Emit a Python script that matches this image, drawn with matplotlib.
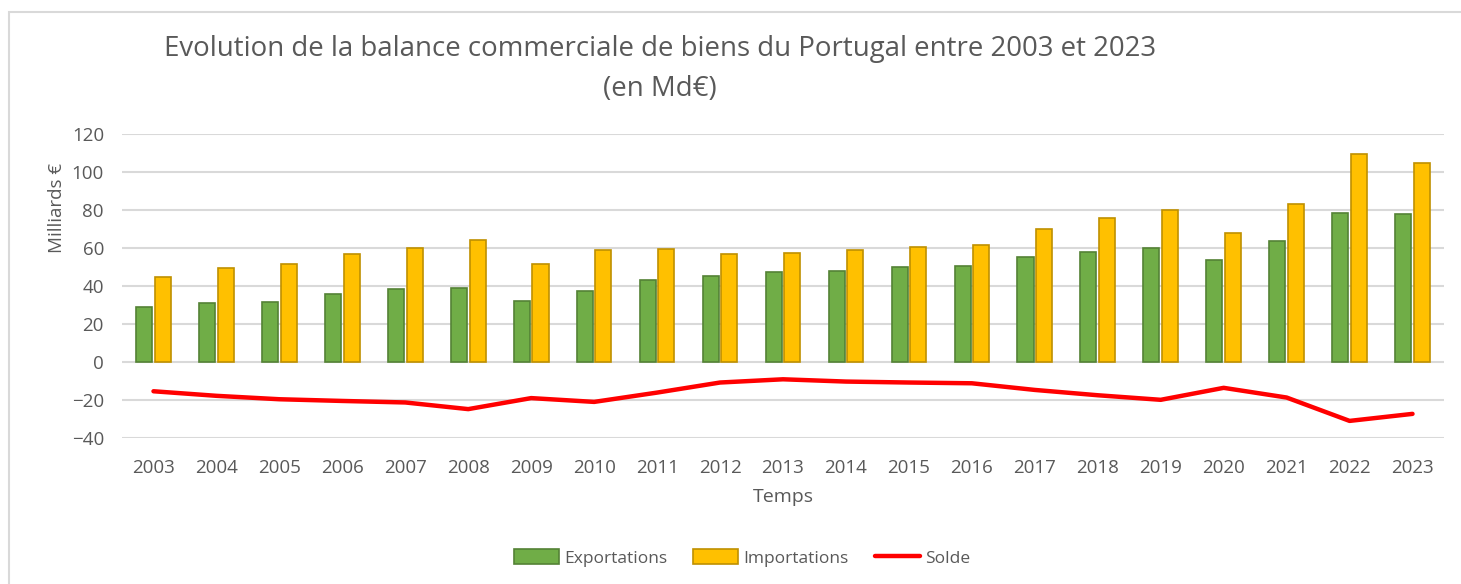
import matplotlib
matplotlib.use("Agg")
import matplotlib.pyplot as plt
import numpy as np
from matplotlib.patches import Rectangle, Patch
from matplotlib.lines import Line2D

years = [str(y) for y in range(2003, 2024)]
exportations = [29.2, 31.0, 31.5, 35.7, 38.3, 39.0, 32.2, 37.3, 43.0, 45.3, 47.6,
                48.1, 49.9, 50.6, 55.1, 57.7, 60.0, 53.9, 63.5, 78.4, 77.8]
importations = [44.6, 49.3, 51.4, 56.7, 60.2, 64.2, 51.4, 58.9, 59.5, 56.7, 57.2,
                58.9, 60.7, 61.4, 69.8, 75.6, 80.1, 68.0, 82.9, 109.3, 104.8]
solde = [-15.4, -17.8, -19.6, -20.5, -21.3, -24.8, -19.0, -21.0, -16.1, -10.8, -9.1,
         -10.3, -10.8, -11.2, -14.7, -17.5, -19.9, -13.6, -18.7, -31.0, -27.3]
yticks = [-40, -20, 0, 20, 40, 60, 80, 100, 120]

TXT = "#595959"
W, H = 1461, 584
plt.rcParams['font.family'] = ['Open Sans', 'DejaVu Sans']

fig = plt.figure(figsize=(W / 100, H / 100), dpi=100)
fig.patch.set_facecolor("white")

# chart border
fig.add_artist(Rectangle((9 / W, -0.1), 1.2, 1 - 12 / H + 0.1, transform=fig.transFigure,
                         fill=False, edgecolor="#D9D9D9", linewidth=1.5))

ax = fig.add_axes([122 / W, 1 - 438 / H, (1444 - 122) / W, (438 - 134) / H])
x = np.arange(len(years))
bw = 0.255
ax.bar(x - 0.148, exportations, bw, color="#70AD47", edgecolor="#548235", linewidth=1.2,
       zorder=3, label="Exportations")
ax.bar(x + 0.148, importations, bw, color="#FFC000", edgecolor="#BF9000", linewidth=1.2,
       zorder=3, label="Importations")
ax.plot(x, solde, color="#FF0000", linewidth=3.2, zorder=4, solid_capstyle="round",
        label="Solde")

ax.set_xlim(-0.5, len(years) - 0.5)
ax.set_ylim(-40, 120)
ax.set_yticks(yticks)
ax.set_xticks(x)
ax.set_xticklabels(years)
ax.yaxis.grid(True, color="#D9D9D9", linewidth=1.5, zorder=0)
ax.set_axisbelow(True)
for s in ax.spines.values():
    s.set_visible(False)
ax.tick_params(axis="both", length=0, labelsize=13.5, colors=TXT)
ax.tick_params(axis="y", pad=13)
ax.tick_params(axis="x", pad=15)

fig.text(660 / W, 1 - 49 / H, "Evolution de la balance commerciale de biens du Portugal entre 2003 et 2023",
         ha="center", va="center", fontsize=19.9, color=TXT)
fig.text(660 / W, 1 - 89 / H, "(en Md€)", ha="center", va="center", fontsize=19.9, color=TXT)
fig.text(57 / W, 1 - 208 / H, "Milliards €", ha="center", va="center", rotation=90,
         fontsize=13.5, color=TXT)
fig.text(783 / W, 1 - 497 / H, "Temps", ha="center", va="center", fontsize=14, color=TXT)

handles = [Patch(facecolor="#70AD47", edgecolor="#548235", linewidth=1.2),
           Patch(facecolor="#FFC000", edgecolor="#BF9000", linewidth=1.2),
           Line2D([0], [0], color="#FF0000", linewidth=3.2, solid_capstyle="round")]
fig.legend(handles, ["Exportations", "Importations", "Solde"], loc="center",
           bbox_to_anchor=(742 / W, 1 - 558 / H), ncol=3, frameon=False,
           fontsize=12.5, labelcolor=TXT, handlelength=2.6, handleheight=0.9,
           handletextpad=0.3, columnspacing=1.5)

fig.savefig("out.png", dpi=100, facecolor="white")
